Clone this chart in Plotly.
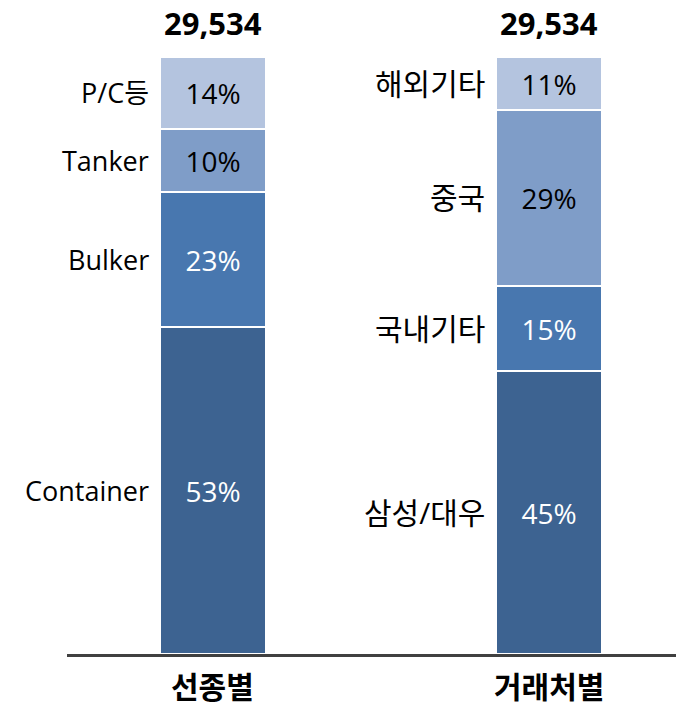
import re
import plotly.graph_objects as go

# ---- data ----
categories = ["선종별", "거래처별"]
totals = ["29,534", "29,534"]

# segment names (bottom -> top)
ship_types = ["Container", "Bulker", "Tanker", "P/C등"]
clients = ["삼성/대우", "국내기타", "중국", "해외기타"]

# segment heights as drawn (share of bar, bottom -> top)
ship_heights = [54.8, 22.6, 10.6, 12.0]
client_heights = [47.4, 14.2, 29.6, 8.8]

# printed share labels (bottom -> top)
ship_pct = ["53%", "23%", "10%", "14%"]
client_pct = ["45%", "15%", "29%", "11%"]

colors = ["#3D6391", "#4877AF", "#7F9DC8", "#B4C4DF"]
text_colors = ["white", "white", "black", "black"]

FONT = "Open Sans, Noto Sans CJK KR, sans-serif"
HANGUL_ONLY = re.compile(r"^[\uac00-\ud7a3/]+$")

fig = go.Figure()
x_pos = [0, 1]
for i in range(4):
    fig.add_trace(go.Bar(
        x=x_pos,
        y=[ship_heights[i], client_heights[i]],
        width=0.316,
        marker=dict(color=colors[i], line=dict(color="white", width=2)),
        text=[ship_pct[i], client_pct[i]],
        textposition="inside",
        insidetextanchor="middle",
        textangle=0,
        constraintext="none",
        textfont=dict(family=FONT, size=28, color=text_colors[i]),
        hoverinfo="skip",
        showlegend=False,
    ))

annotations = []
for gi, (names, heights) in enumerate([(ship_types, ship_heights), (clients, client_heights)]):
    cum = 0
    for name, h in zip(names, heights):
        size = 30 if HANGUL_ONLY.match(name) else 27
        annotations.append(dict(
            x=x_pos[gi], y=cum + h / 2, xref="x", yref="y",
            text=name, showarrow=False, xanchor="right", yanchor="middle",
            xshift=-62, font=dict(family=FONT, size=size, color="black"),
        ))
        cum += h
    annotations.append(dict(
        x=x_pos[gi], y=cum, xref="x", yref="y", text="<b>%s</b>" % totals[gi],
        showarrow=False, xanchor="center", yanchor="middle", yshift=34,
        font=dict(family=FONT, size=31, color="black"),
    ))
    annotations.append(dict(
        x=x_pos[gi], y=0, xref="x", yref="y", text="<b>%s</b>" % categories[gi],
        showarrow=False, xanchor="center", yanchor="middle", yshift=-32,
        font=dict(family=FONT, size=30, color="black"),
    ))

fig.update_layout(
    barmode="stack",
    width=676, height=706,
    margin=dict(l=67, r=0, t=57, b=52),
    paper_bgcolor="white", plot_bgcolor="white",
    xaxis=dict(range=[-0.4345, 1.378], showline=True, linecolor="#404040",
               linewidth=3, showticklabels=False, ticks="", showgrid=False,
               zeroline=False, fixedrange=True),
    yaxis=dict(range=[0, 100], visible=False, fixedrange=True),
    annotations=annotations,
    bargap=0,
)

fig.write_html("out.html", config={"displayModeBar": False},
               post_script="document.body.style.margin='0';")
